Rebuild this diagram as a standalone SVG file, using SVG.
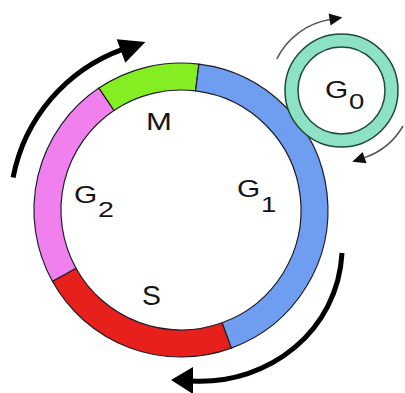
<svg xmlns="http://www.w3.org/2000/svg" width="405" height="393" viewBox="0 0 405 393">
<style>
.seg{stroke:#1e1e28;stroke-width:1.2;stroke-linejoin:round}
.lbl{font-family:"Liberation Sans",Arial,sans-serif;font-size:23px;fill:#151515}
.sub{font-family:"Liberation Sans",Arial,sans-serif;font-size:22px;fill:#151515}
.big{fill:none;stroke:#000;stroke-width:5;stroke-linecap:butt}
.thin{fill:none;stroke:#555;stroke-width:1.5}
</style>
<rect width="405" height="393" fill="#fff"/>
<g id="ring">
<g id="M-phase">
<path class="seg" fill="#84ee22" d="M98.8,88.1 A147,147 0 0 1 198.9,64.1 L195.6,90.9 A120,120 0 0 0 113.9,110.5 Z"/>
<text class="lbl" transform="translate(146,130) scale(1.35,1)">M</text>
</g>
<g id="G1-phase">
<path class="seg" fill="#6f9ef0" d="M198.9,64.1 A147,147 0 0 1 231.3,348.1 L222,322.8 A120,120 0 0 0 195.6,90.9 Z"/>
<text class="lbl" transform="translate(237,197) scale(1.3,1)">G</text>
<text class="sub" transform="translate(261,212) scale(1.25,1)">1</text>
</g>
<g id="S-phase">
<path class="seg" fill="#e8201c" d="M231.3,348.1 A147,147 0 0 1 52.4,281.3 L76,268.2 A120,120 0 0 0 222,322.8 Z"/>
<text class="lbl" style="font-size:27px" transform="translate(142,305) scale(1.05,1)">S</text>
</g>
<g id="G2-phase">
<path class="seg" fill="#f080ee" d="M52.4,281.3 A147,147 0 0 1 98.8,88.1 L113.9,110.5 A120,120 0 0 0 76,268.2 Z"/>
<text class="lbl" transform="translate(74,203) scale(1.3,1)">G</text>
<text class="sub" transform="translate(98,217) scale(1.3,1)">2</text>
</g>
</g>
<g id="G0">
<path fill="#8de2c4" fill-rule="evenodd" stroke="#1f4a36" stroke-width="1.5" d="M285,90.5 A56.5,56.5 0 1 0 398,90.5 A56.5,56.5 0 1 0 285,90.5 Z M298,90.5 A43.5,43.5 0 1 0 385,90.5 A43.5,43.5 0 1 0 298,90.5 Z"/>
<text class="lbl" transform="translate(325,98) scale(1.3,1)">G</text>
<text class="sub" transform="translate(349,109) scale(1.25,1)">0</text>
</g>
<g id="connectors">
<path class="big" d="M13.1,177.4 A171,171 0 0 1 122.5,49.3"/>
<polygon fill="#000" points="145.4,42.1 125.3,62.7 116.7,39.3"/>
<path class="big" d="M342,253 C338,330 270,385 192,381"/>
<polygon fill="#000" points="171,380 193,367 193,394"/>
<path class="thin" d="M276.8,58.9 A72,72 0 0 1 330,19.6"/>
<polygon fill="#111" points="342.4,17.4 330.6,25.4 328.6,13.6"/>
<path class="thin" d="M403,126 A71,71 0 0 1 364.6,157.6"/>
<polygon fill="#111" points="352.3,161.8 366.6,163.3 362.6,151.9"/>
</g>
</svg>
